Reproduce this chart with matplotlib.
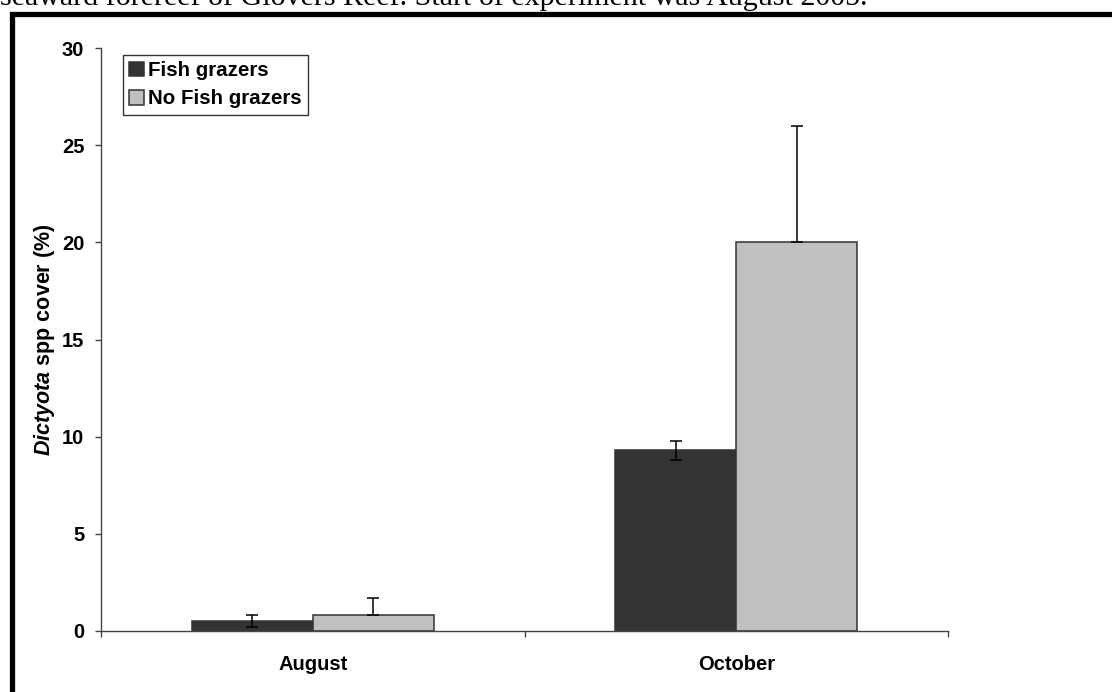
import matplotlib
matplotlib.use('Agg')
import matplotlib.pyplot as plt
from matplotlib.patches import Rectangle
import numpy as np

# ---- data ----
months = ['August', 'October']
series = ['Fish grazers', 'No Fish grazers']
fish_cover = [0.5, 9.3]
fish_err = [0.3, 0.5]
nofish_cover = [0.8, 20.0]
nofish_err = [0.9, 6.0]

caption = 'seaward forereef of Glovers Reef. Start of experiment was August 2005.'

plt.rcParams['font.family'] = ['Liberation Sans', 'DejaVu Sans']
plt.rcParams['mathtext.fontset'] = 'custom'
plt.rcParams['mathtext.it'] = 'Liberation Sans:italic:bold'
plt.rcParams['mathtext.rm'] = 'Liberation Sans:bold'

W, H = 1112, 692
fig = plt.figure(figsize=(W / 100, H / 100), dpi=100)

def fx(px):
    return px / W

def fy(py):
    return 1 - py / H

# caption line above the frame (cut by the top edge)
fig.text(0.0, fy(5), caption, family='Liberation Serif', fontsize=21.6,
         ha='left', va='baseline', color='black')

# thick frame around the chart
frame = Rectangle((fx(12), fy(720)), fx(1200), fy(13.5) - fy(720),
                  transform=fig.transFigure, fill=False, lw=3.8,
                  edgecolor='black', clip_on=False)
fig.patches.append(frame)

ax = fig.add_axes([fx(101), fy(631), fx(948) - fx(101), fy(48) - fy(631)])

fs = 14.5
x = np.arange(len(months))
w = 0.2857
ax.bar(x - w / 2, fish_cover, w, color='#333333', edgecolor='#333333',
       linewidth=1.1, label=series[0], zorder=2)
ax.bar(x + w / 2, nofish_cover, w, color='#c0c0c0', edgecolor='#333333',
       linewidth=1.1, label=series[1], zorder=2)
ax.errorbar(x - w / 2, fish_cover, yerr=fish_err, fmt='none', ecolor='black',
            elinewidth=1.1, capsize=4.5, capthick=1.1, zorder=3)
ax.errorbar(x + w / 2, nofish_cover, yerr=[[0, 0], nofish_err], fmt='none',
            ecolor='black', elinewidth=1.1, capsize=4.5, capthick=1.1, zorder=3)

ax.set_xlim(-0.5, 1.5)
ax.set_ylim(0, 30)
ax.set_yticks(np.arange(0, 31, 5))
ax.set_xticks(x)
ax.set_xticklabels(months, fontweight='bold', fontsize=fs)
ax.set_xticks([-0.5, 0.5, 1.5], minor=True)
ax.tick_params(axis='x', which='major', length=0, pad=17)
ax.tick_params(axis='x', which='minor', length=4, width=1, color='#444444', direction='out')
ax.tick_params(axis='y', length=4, width=1, color='#444444', direction='out',
               pad=8, labelsize=fs)
for lab in ax.get_yticklabels():
    lab.set_fontweight('bold')

for s in ['top', 'right']:
    ax.spines[s].set_visible(False)
for s in ['left', 'bottom']:
    ax.spines[s].set_color('#444444')
    ax.spines[s].set_linewidth(1)

ax.set_ylabel(r'$\it{Dictyota}$ spp cover (%)', fontweight='bold', fontsize=15.5,
              labelpad=3.5)

leg = ax.legend(loc='upper left', bbox_to_anchor=(0.026, 0.988), frameon=True,
                fancybox=False, edgecolor='#333333', framealpha=1,
                handlelength=0.72, handleheight=0.72, handletextpad=0.2,
                borderpad=0.3, labelspacing=0.45, borderaxespad=0,
                prop={'weight': 'bold', 'size': 14.8})
leg.get_frame().set_linewidth(1)

fig.savefig('out.png', dpi=100)
